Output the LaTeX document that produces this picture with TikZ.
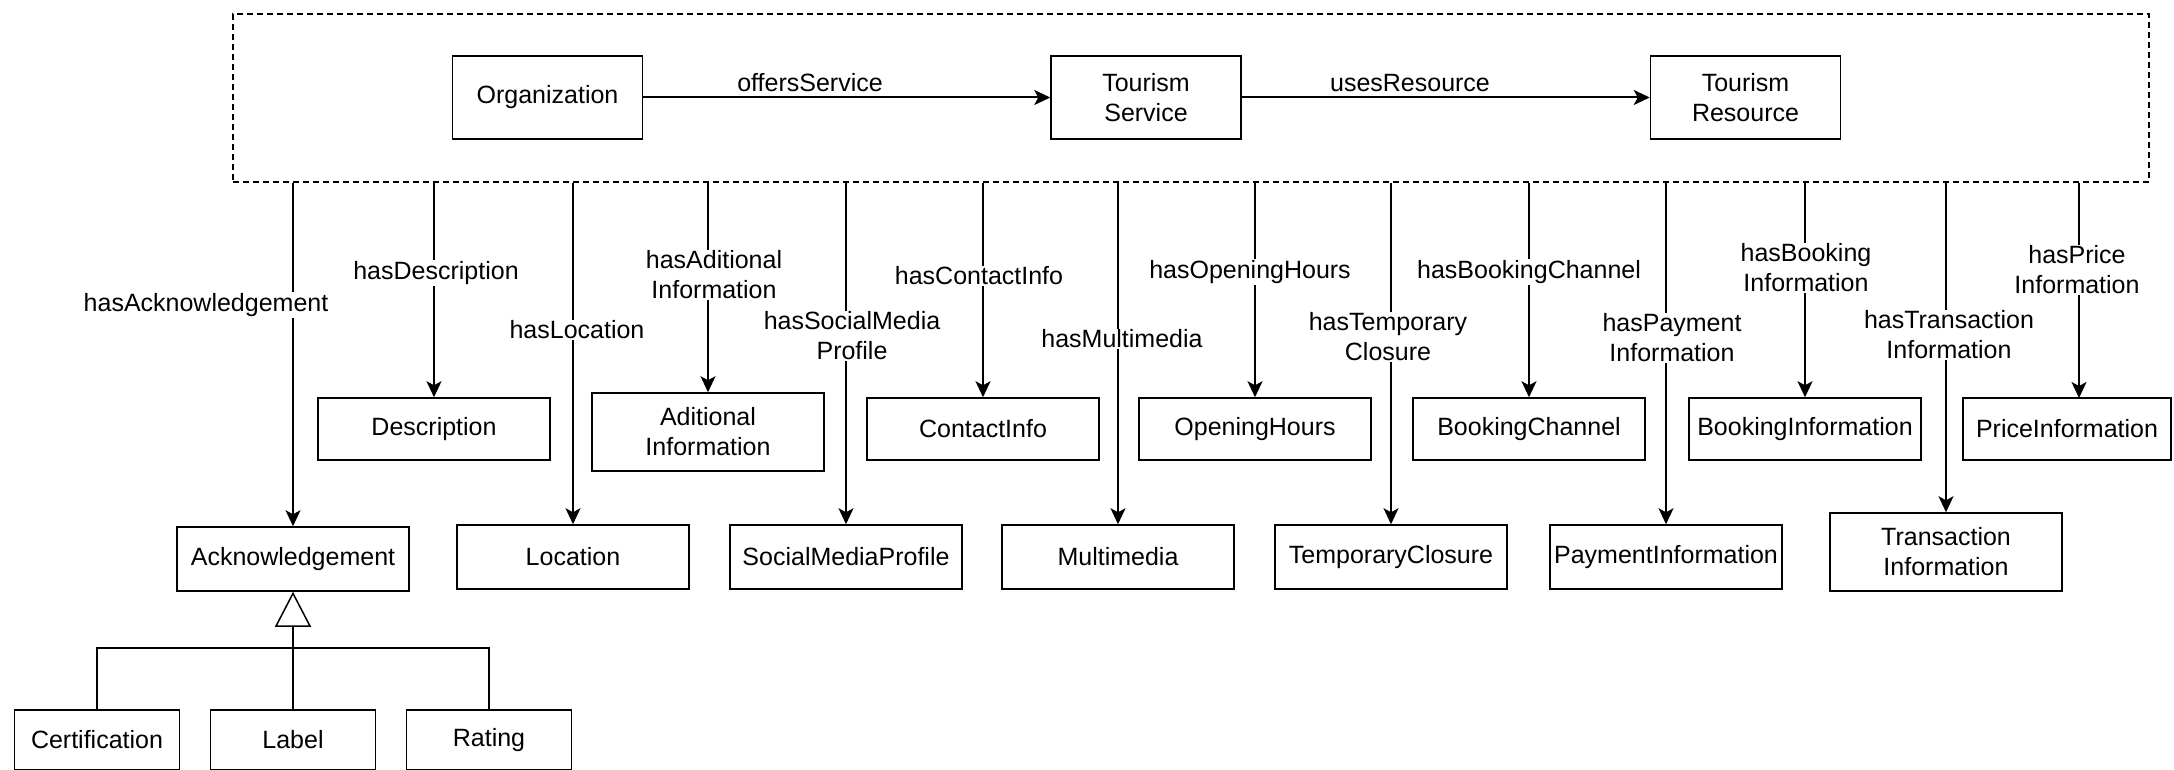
\documentclass[tikz,border=0pt]{standalone}
\usepackage{fontspec}
\setmainfont{Liberation Sans}
\usetikzlibrary{arrows.meta}
\newcommand{\diagfont}{\fontsize{25}{30}\selectfont}
\begin{document}
\begin{tikzpicture}[x=1pt,y=-1pt,
  box/.style={draw, line width=1.5pt, inner sep=0pt, align=center, font=\diagfont, minimum width=232pt, minimum height=62pt},
  topbox/.style={box, minimum width=190pt, minimum height=83pt},
  rowtwo/.style={box, minimum height=64pt},
  subbox/.style={box, minimum width=165pt, minimum height=60pt},
  lbl/.style={fill=white, inner sep=1pt, align=center, font=\diagfont},
  conn/.style={line width=1.5pt, -{Stealth[length=16pt,width=15pt,inset=4pt]}},
  plain/.style={line width=1.5pt},
  gen/.style={line width=1.5pt, -{Triangle[open,length=35pt,width=36pt]}},
  framebox/.style={draw, line width=1.3pt, dash pattern=on 6pt off 4pt, inner sep=0pt, minimum width=1916pt, minimum height=168pt}
]
\useasboundingbox (0,0) rectangle (2174,770);
\fill[white] (0,0) rectangle (2174,770);

% frame and top classes
\node[framebox] (frame) at (1191,98) {};
\node[topbox] (org) at (547.5,97.5) {Organization};
\node[topbox] (ts) at (1146,97.5) {Tourism\\Service};
\node[topbox] (tr) at (1745.5,97.5) {Tourism\\Resource};
\draw[conn, line width=2pt] (org) -- (ts);
\draw[conn, line width=2pt] (ts) -- (tr);
\node[font=\diagfont] (lofs) at (810,83) {offersService};
\node[font=\diagfont] (lusr) at (1410,83) {usesResource};

% row 1 boxes
\node[box] (desc) at (434,429) {Description};
\node[box, minimum height=78pt] (addi) at (708,432) {Aditional\\Information};
\node[box] (cont) at (983,429) {ContactInfo};
\node[box] (open) at (1255,429) {OpeningHours};
\node[box] (bchan) at (1529,429) {BookingChannel};
\node[box] (binfo) at (1805,429) {BookingInformation};
\node[box, minimum width=208pt] (price) at (2067,429) {PriceInformation};

% row 2 boxes
\node[rowtwo] (ack) at (293,559) {Acknowledgement};
\node[rowtwo] (loc) at (573,557) {Location};
\node[rowtwo] (smp) at (846,557) {SocialMediaProfile};
\node[rowtwo] (mm) at (1118,557) {Multimedia};
\node[rowtwo] (tc) at (1391,557) {TemporaryClosure};
\node[rowtwo] (pay) at (1666,557) {PaymentInformation};
\node[rowtwo, minimum height=78pt] (trans) at (1946,552) {Transaction\\Information};

% sub classes
\node[subbox] (cert) at (97,740) {Certification};
\node[subbox] (label) at (293,740) {Label};
\node[subbox] (rating) at (489,740) {Rating};

% connectors from frame
\draw[conn] (frame.south -| ack.north) -- (ack.north);
\draw[conn] (frame.south -| desc.north) -- (desc.north);
\draw[conn] (frame.south -| loc.north) -- (loc.north);
\draw[conn] (frame.south -| addi.north) -- (addi.north);
\draw[conn] (frame.south -| smp.north) -- (smp.north);
\draw[conn] (frame.south -| cont.north) -- (cont.north);
\draw[conn] (frame.south -| mm.north) -- (mm.north);
\draw[conn] (frame.south -| open.north) -- (open.north);
\draw[conn] (frame.south -| tc.north) -- (tc.north);
\draw[conn] (frame.south -| bchan.north) -- (bchan.north);
\draw[conn] (frame.south -| pay.north) -- (pay.north);
\draw[conn] (frame.south -| binfo.north) -- (binfo.north);
\draw[conn] (frame.south -| trans.north) -- (trans.north);
\coordinate (pricein) at (2079,398);
\draw[conn] (frame.south -| pricein) -- (pricein);

% connector labels
\node[lbl] (l1) at (206,305) {hasAcknowledgement};
\node[lbl] (l2) at (436,273) {hasDescription};
\node[lbl] (l3) at (577,330) {hasLocation};
\node[lbl] (l4) at (714,275) {hasAditional\\Information};
\node[lbl] (l5) at (852,336) {hasSocialMedia\\Profile};
\node[lbl] (l6) at (979,276) {hasContactInfo};
\node[lbl] (l7) at (1122,339) {hasMultimedia};
\node[lbl] (l8) at (1250,272) {hasOpeningHours};
\node[lbl] (l9) at (1388,337) {hasTemporary\\Closure};
\node[lbl] (l10) at (1529,272) {hasBookingChannel};
\node[lbl] (l11) at (1672,338) {hasPayment\\Information};
\node[lbl] (l12) at (1806,268) {hasBooking\\Information};
\node[lbl] (l13) at (1949,335) {hasTransaction\\Information};
\node[lbl] (l14) at (2077,270) {hasPrice\\Information};

% generalization
\coordinate (junc) at (293,648);
\draw[plain] (cert.north) |- (junc) -| (rating.north);
\draw[gen] (label.north) -- (ack.south);
\end{tikzpicture}
\end{document}
